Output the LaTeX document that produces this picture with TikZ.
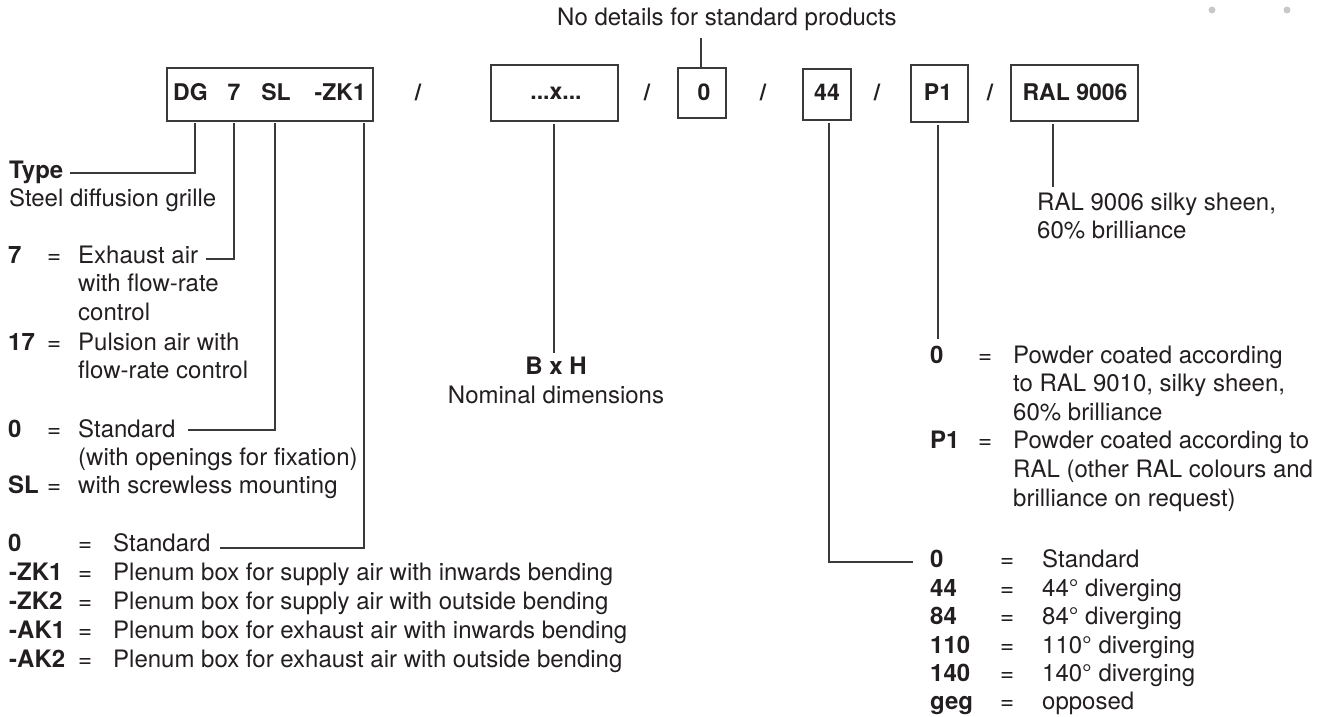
\documentclass[tikz,border=0pt]{standalone}
\usepackage{fontspec}
\setmainfont{TeX Gyre Heros}
\definecolor{ink}{HTML}{231F20}
\definecolor{ln}{HTML}{3A3A3A}
\definecolor{dotc}{HTML}{C8C8C8}
\tikzset{
  txt/.style={anchor=base west, inner sep=0pt, text=ink, font=\fontsize{24}{28}\selectfont},
  bld/.style={anchor=base west, inner sep=0pt, text=ink, font=\fontsize{24}{28}\selectfont\bfseries},
  ctxt/.style={anchor=base, inner sep=0pt, text=ink, font=\fontsize{24}{28}\selectfont},
  cbld/.style={anchor=base, inner sep=0pt, text=ink, font=\fontsize{24}{28}\selectfont\bfseries},
  code/.style={anchor=base, inner sep=0pt, text=ink, font=\fontsize{23}{28}\selectfont\bfseries},
  boxc/.style={draw=ln, line width=1.3pt, inner sep=0pt},
  conn/.style={draw=ln, line width=1.3pt},
}
\begin{document}
\begin{tikzpicture}[x=1pt,y=-1pt]
\useasboundingbox (0,0) rectangle (1325,717);
% decorative dots
\fill[dotc] (1212,10) circle (3.5);
\fill[dotc] (1287,10) circle (3.5);
% top note
\node[txt] (note) at (557,26) {No details for standard products};
% boxes
\node[boxc, minimum width=206pt, minimum height=53pt] (b1) at (270,94.5) {};
\node[boxc, minimum width=127pt, minimum height=56pt] (bbh) at (554.5,93) {};
\node[boxc, minimum width=48pt, minimum height=50pt] (b0) at (702,93) {};
\node[boxc, minimum width=48pt, minimum height=51pt] (b44) at (827,94.5) {};
\node[boxc, minimum width=57pt, minimum height=57pt] (bp1) at (939.5,93.5) {};
\node[boxc, minimum width=127pt, minimum height=56pt] (bral) at (1074.5,93) {};
% box texts
\node[code, anchor=base west] (dg) at (173,100.5) {DG};
\node[code] (seven) at (234,100.5) {7};
\node[code] (sl) at (276,100.5) {SL};
\node[code, anchor=base east] (zk) at (366,100.5) {-ZK1};
\node[code] (bhx) at (556,99.5) {...x...};
\node[code] (t0) at (704,100) {0};
\node[code] (t44) at (827,100) {44};
\node[code] (tp1) at (938,100) {P1};
\node[code] (tral) at (1075,100) {RAL 9006};
% slashes
\node[code] (s1) at (418,100.5) {/};
\node[code] (s2) at (647,100) {/};
\node[code] (s3) at (763,100) {/};
\node[code] (s4) at (877,100) {/};
\node[code] (s5) at (990,100) {/};
% left legend
\node[bld] (type) at (9,178) {Type};
\node[txt] (steel) at (9,206) {Steel diffusion grille};
\node[bld] (k7) at (8,263) {7};
\node[txt] (e7) at (47,263) {=};
\node[txt] (exh) at (78,263) {Exhaust air};
\node[txt] (exh2) at (78,291.5) {with flow-rate};
\node[txt] (exh3) at (78,320) {control};
\node[bld] (k17) at (8,350) {17};
\node[txt] (e17) at (47,350) {=};
\node[txt] (pul) at (78,350) {Pulsion air with};
\node[txt] (pul2) at (78,378) {flow-rate control};
\node[bld] (k0a) at (8,437) {0};
\node[txt] (e0a) at (47,437) {=};
\node[txt] (std1) at (78,437) {Standard};
\node[txt] (std1b) at (78,465) {(with openings for fixation)};
\node[bld] (ksl) at (8,493) {SL};
\node[txt] (esl) at (47,493) {=};
\node[txt] (scr) at (78,493) {with screwless mounting};
\node[bld] (k0b) at (8,551) {0};
\node[txt] (e0b) at (78,551) {=};
\node[txt] (std2) at (113,551) {Standard};
\node[bld] (kz1) at (9,580) {-ZK1};
\node[txt] (ez1) at (78,580) {=};
\node[txt] (pz1) at (113,580) {Plenum box for supply air with inwards bending};
\node[bld] (kz2) at (9,609) {-ZK2};
\node[txt] (ez2) at (78,609) {=};
\node[txt] (pz2) at (113,609) {Plenum box for supply air with outside bending};
\node[bld] (ka1) at (9,638) {-AK1};
\node[txt] (ea1) at (78,638) {=};
\node[txt] (pa1) at (113,638) {Plenum box for exhaust air with inwards bending};
\node[bld] (ka2) at (9,667) {-AK2};
\node[txt] (ea2) at (78,667) {=};
\node[txt] (pa2) at (113,667) {Plenum box for exhaust air with outside bending};
% middle legend
\node[cbld] (bxh) at (556,374) {B x H};
\node[ctxt] (nom) at (556,403) {Nominal dimensions};
% RAL legend
\node[txt] (ral1) at (1037,210) {RAL 9006 silky sheen,};
\node[txt] (ral2) at (1037,238) {60\% brilliance};
% P1 legend
\node[bld] (kp0) at (930,363) {0};
\node[txt] (ep0) at (978,363) {=};
\node[txt] (pw1) at (1013,363) {Powder coated according};
\node[txt] (pw2) at (1013,391.5) {to RAL 9010, silky sheen,};
\node[txt] (pw3) at (1013,420) {60\% brilliance};
\node[bld] (kp1) at (930,448) {P1};
\node[txt] (ep1) at (978,448) {=};
\node[txt] (pq1) at (1013,448) {Powder coated according to};
\node[txt] (pq2) at (1013,477) {RAL (other RAL colours and};
\node[txt] (pq3) at (1013,506) {brilliance on request)};
% 44 legend
\node[bld] (d0) at (930,567) {0};
\node[txt] (f0) at (1000,567) {=};
\node[txt] (g0) at (1042,567) {Standard};
\node[bld] (d44) at (930,596) {44};
\node[txt] (f44) at (1000,596) {=};
\node[txt] (g44) at (1042,596) {44° diverging};
\node[bld] (d84) at (930,624) {84};
\node[txt] (f84) at (1000,624) {=};
\node[txt] (g84) at (1042,624) {84° diverging};
\node[bld] (d110) at (930,653) {110};
\node[txt] (f110) at (1000,653) {=};
\node[txt] (g110) at (1042,653) {110° diverging};
\node[bld] (d140) at (930,681) {140};
\node[txt] (f140) at (1000,681) {=};
\node[txt] (g140) at (1042,681) {140° diverging};
\node[bld] (dgeg) at (930,709) {geg};
\node[txt] (fgeg) at (1000,709) {=};
\node[txt] (ggeg) at (1042,709) {opposed};
% connector coordinates
\coordinate (xDG) at (195,0);
\coordinate (xSeven) at (234,0);
\coordinate (xSL) at (275,0);
\coordinate (xZK) at (364,0);
\coordinate (xBH) at (554,0);
\coordinate (x44) at (829,0);
\coordinate (xP1) at (938,0);
\coordinate (xRAL) at (1053,0);
\coordinate (eType) at (70,173);
\coordinate (eSeven) at (206,259);
\coordinate (eSL) at (188,430);
\coordinate (eZK) at (220,548);
\coordinate (eBH) at (554,353);
\coordinate (e44) at (913,562);
\coordinate (eP1) at (938,339);
\coordinate (eRAL) at (1053,187);
\coordinate (eNote) at (701,38);
% connectors
\draw[conn] (b0.north -| eNote) -- (eNote);
\draw[conn, shorten <=1.5pt] (xDG |- b1.south) |- (eType);
\draw[conn, shorten <=1.5pt] (xSeven |- b1.south) |- (eSeven);
\draw[conn, shorten <=1.5pt] (xSL |- b1.south) |- (eSL);
\draw[conn, shorten <=1.5pt] (xZK |- b1.south) |- (eZK);
\draw[conn, shorten <=2.5pt] (xBH |- bbh.south) -- (eBH);
\draw[conn, shorten <=2pt] (x44 |- b44.south) |- (e44);
\draw[conn, shorten <=2.5pt] (xP1 |- bp1.south) -- (eP1);
\draw[conn, shorten <=2.5pt] (xRAL |- bral.south) -- (eRAL);
\end{tikzpicture}
\end{document}
